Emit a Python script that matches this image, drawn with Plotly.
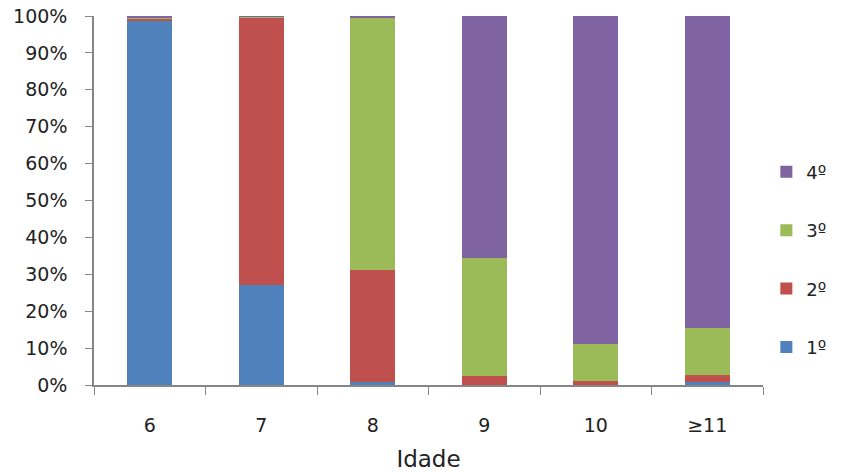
import plotly.graph_objects as go

idade = ["6", "7", "8", "9", "10", "≥11"]
ano_1 = [98.6, 27.1, 0.7, 0.0, 0.0, 0.7]
ano_2 = [0.7, 72.4, 30.5, 2.4, 1.2, 2.1]
ano_3 = [0.4, 0.3, 68.3, 32.0, 9.9, 12.6]
ano_4 = [0.3, 0.2, 0.5, 65.6, 88.9, 84.6]

series = [
    ("1º", ano_1, "#4F81BD"),
    ("2º", ano_2, "#C0504D"),
    ("3º", ano_3, "#9BBB59"),
    ("4º", ano_4, "#8064A2"),
]

fig = go.Figure()
for i, (name, vals, color) in enumerate(series):
    fig.add_trace(go.Bar(
        x=idade, y=vals, name=name, legendgroup=name,
        legendrank=1000 - i,
        marker=dict(color=color, line=dict(width=0)),
    ))

axis_color = "#868686"
font = dict(family="DejaVu Sans, Verdana, sans-serif", size=19, color="#222222")

fig.update_layout(
    barmode="stack",
    bargap=0.6,
    width=854, height=472,
    margin=dict(l=94, r=91, t=16, b=87, autoexpand=False),
    paper_bgcolor="white", plot_bgcolor="white",
    font=font,
    showlegend=True,
    legend=dict(
        traceorder="grouped", tracegroupgap=32,
        x=1.005, xanchor="left", y=0.34, yanchor="middle",
        font=dict(size=18), itemwidth=30,
    ),
    xaxis=dict(
        title=dict(text="Idade", standoff=18),
        automargin=False,
        showline=True, linecolor=axis_color, linewidth=1.5,
        ticks="outside", tickson="boundaries", ticklen=8, tickcolor=axis_color,
        ticklabelstandoff=22,
        showgrid=False,
    ),
    yaxis=dict(
        range=[0, 100], dtick=10, ticksuffix="%",
        automargin=False,
        showline=True, linecolor=axis_color, linewidth=1.5,
        ticks="outside", ticklen=7, tickcolor=axis_color,
        ticklabelstandoff=14,
        showgrid=False, zeroline=False,
    ),
)

fig.write_html("out.html")
